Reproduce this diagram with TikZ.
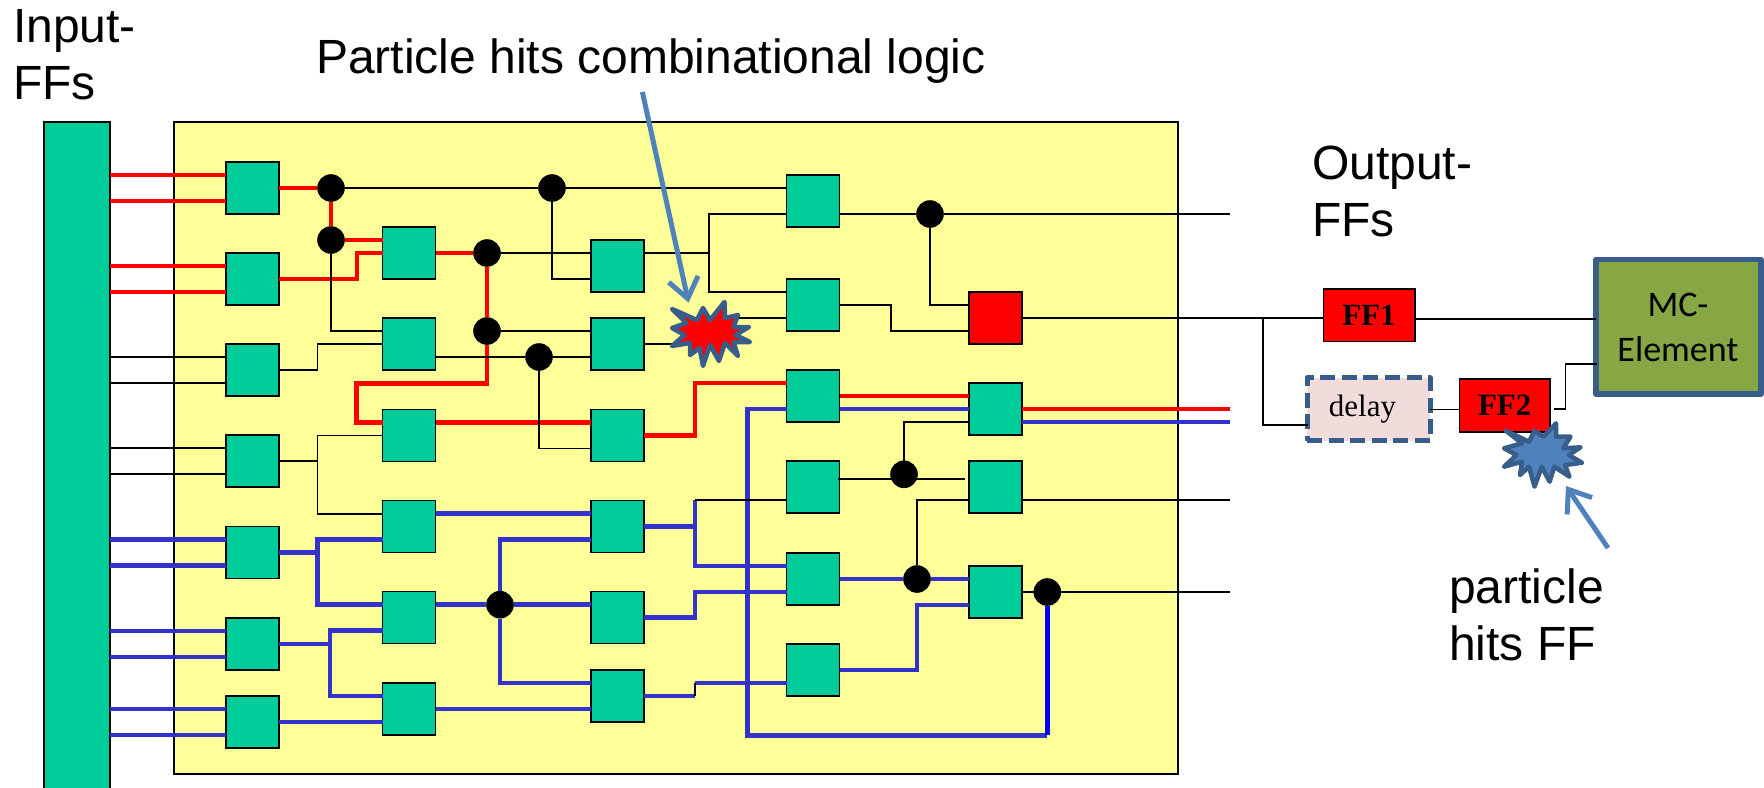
\documentclass[tikz,border=0pt]{standalone}
\usepackage{fontspec}
\setmainfont{Liberation Sans}
\newfontfamily\ffserif{Liberation Serif}
\newfontfamily\mcfont{Carlito}
\usetikzlibrary{arrows.meta}

\definecolor{gategreen}{HTML}{00CC99}
\definecolor{chipyellow}{HTML}{FFFF99}
\definecolor{wireblue}{HTML}{3333CC}
\definecolor{hitblue}{HTML}{4F81BD}
\definecolor{edgeblue}{HTML}{385D8A}
\definecolor{mcgreen}{HTML}{86A744}
\definecolor{delaypink}{HTML}{F2DCDB}

\tikzset{
  gate/.style={draw=black,line width=1.5pt,fill=gategreen,minimum width=53pt,minimum height=52pt,inner sep=0pt,outer sep=0pt},
  joint/.style={circle,fill=black,minimum size=27.6pt,inner sep=0pt,outer sep=0pt},
  thinw/.style={draw=black,line width=1.6pt},
  redw/.style={draw=red,line width=4.8pt},
  bluew/.style={draw=wireblue,line width=4.8pt},
  ffbox/.style={draw=black,line width=1.5pt,fill=red,inner sep=0pt,outer sep=0pt,font=\ffserif\bfseries\fontsize{31}{31}\selectfont},
  hit/.style={draw=edgeblue,line width=4.5pt,line join=round},
  hitarrow/.style={draw=hitblue,line width=5pt,-{Straight Barb[length=20pt,width=30pt,line width=5pt]}},
  label/.style={inner sep=0pt,outer sep=0pt,align=left,anchor=base west,font=\fontsize{48}{57}\selectfont}
}

\begin{document}
\begin{tikzpicture}[x=1pt,y=-1pt]
\useasboundingbox (0,0) rectangle (1764,787);

% chip and input flip-flops
\node[draw=black,line width=1.5pt,fill=chipyellow,minimum width=1004pt,minimum height=652pt,inner sep=0pt,outer sep=0pt] (chip) at (676,448) {};
\node[draw=black,line width=1.5pt,fill=gategreen,minimum width=66pt,minimum height=675pt,inner sep=0pt,outer sep=0pt] (bar) at (77,459.5) {};

% gates
\foreach \name/\cx/\cy in {G1/252.5/188,G2/252.5/279,G3/252.5/370,G4/252.5/461,G5/252.5/552.7,G6/252.5/644,G7/252.5/722,
  B1/409/253,B2/409/344,B3/409/435.5,B4/409/526.7,B5/409/617.7,B6/409/709,
  C1/617.5/266,C2/617.5/344,C3/617.5/435.5,C4/617.5/526.7,C5/617.5/617.7,C6/617.5/696,
  D1/813/201,D2/813/305,D3/813/396,D4/813/487,D5/813/579,D6/813/670,
  E2/995.5/409,E3/995.5/487,E4/995.5/592}
{
  \node[gate] (\name) at (\cx,\cy) {};
  \coordinate (\name a) at ([yshift=13pt]\name.west);
  \coordinate (\name b) at ([yshift=-13pt]\name.west);
}
\node[gate,fill=red] (E1) at (995.5,318) {};
\coordinate (E1a) at ([yshift=13pt]E1.west);
\coordinate (E1b) at ([yshift=-13pt]E1.west);

% joints
\foreach \name/\cx/\cy in {dotA/331/188,dotB/331/240,dotC/552/188,dotD/487/253,dotE/487/331,dotF/539/357,
  dotG/500/604.7,dotH/930/214,dotI/904/474.3,dotJ/917/579,dotK/1047.3/592}
  \node[joint] (\name) at (\cx,\cy) {};

% input wires
\foreach \g/\w in {G1/redw,G2/redw,G3/thinw,G4/thinw,G5/bluew,G6/bluew,G7/bluew}
{
  \draw[\w] (\g a -| bar.east) -- (\g a);
  \draw[\w] (\g b -| bar.east) -- (\g b);
}

% red path
\draw[redw] (G1.east) -- (dotA) -- (dotB) -- (B1a);
\draw[redw] (G2.east) -| (357,253) -- (B1.west);
\draw[redw] (B1.east) -- (dotD) -- (dotE) -- (487,383.3) -- (356.5,383.3) |- (B3a);
\draw[redw] (B3a -| B3.east) -- (C3a);
\draw[redw] (C3.east) -| (695,383) -- (D3a);
\draw[redw] (D3.east) -- (E2a);
\draw[redw] (E2.east) -- (1230,409);

% blue paths
\draw[bluew] (G5.east) -- (317.6,552.7);
\draw[bluew] (B4b) -- (317.6,539.7) |- (B5a);
\draw[bluew] (G6.east) -- (330,644);
\draw[bluew] (B5b) -- (330,630.7) |- (B6a);
\draw[bluew] (G7.east) -- (B6b);
\draw[bluew] (B4a -| B4.east) -- (C4a);
\draw[bluew] (B5a -| B5.east) -- (dotG) -- (C5a);
\draw[bluew] (dotG) |- (C4b);
\draw[bluew] (dotG) |- (C6a);
\draw[bluew] (B6.east) -- (C6b);
\draw[bluew] (C4.east) -- (695,526.7);
\draw[bluew] (695,500) -- (695,566) -- (D5a);
\draw[bluew] (C5.east) -| (695,592) -- (D5b);
\draw[bluew] (C6.east) -- (695,696);
\draw[bluew] (695,683) -- (D6b);
\draw[bluew] (D3b) -- (747.3,409) -- (747.3,735.3) -- (1047.3,735.3);
\draw[bluew,draw=blue] (1047.3,735.3) -- (dotK);
\draw[bluew] (D3b -| D3.east) -- (E2.west);
\draw[bluew] (D5.east) -- (dotJ) -- (E4a);
\draw[bluew] (D6.east) -| (917,605) -- (E4b);
\draw[bluew] (E2b -| E2.east) -- (1230,422);

% thin wires
\draw[thinw] (dotA) -- (dotC) -- (D1a);
\draw[thinw] (dotC) |- (C1b);
\draw[thinw] (dotD) -- (C1a);
\draw[thinw] (dotB) |- (B2a);
\draw[thinw] (dotE) -- (C2a);
\draw[thinw] (B2b -| B2.east) -- (dotF) -- (C2b);
\draw[thinw] (G3.east) -| (317.6,344) -- (B2.west);
\draw[thinw] (dotF) |- (C3b);
\draw[thinw] (B3.west) -- (317.6,435.5) |- (B4a);
\draw[thinw] (G4.east) -- (317.6,461);
\draw[thinw] (695,500) -- (D4b);
\draw[thinw] (695,696) -- (695,683);
\draw[thinw] (dotJ) |- (E3b);
\draw[thinw] (E4.east) -- (dotK) -- (1230,592);
\coordinate (D4out) at (837.5,478.7);
\coordinate (E3in) at (965,478.7);
\draw[thinw] (D4out) -- (E3in);
\draw[thinw] (dotI) |- (E2b);
\draw[thinw] (E3b -| E3.east) -- (1230,500);
\draw[thinw] (C1a -| C1.east) -- (709,253);
\draw[thinw] (D1b) -- (709,214) |- (D2a);
\draw[thinw] (C2.east) -- (710,344) |- (D2b);
\draw[thinw] (D1b -| D1.east) -- (dotH) -- (1230,214);
\draw[thinw] (dotH) |- (E1a);
\draw[thinw] (D2.east) -| (891,331) -- (E1b);

% output side
\node[ffbox,minimum width=91.5pt,minimum height=52.5pt] (FF1) at (1369,315) {FF1};
\node[ffbox,minimum width=90.5pt,minimum height=53pt] (FF2) at (1504.7,405.5) {FF2};
\node[draw=edgeblue,line width=5pt,fill=delaypink,line join=round,dash pattern=on 15pt off 6.6pt,minimum width=123pt,minimum height=63pt,inner sep=0pt,outer sep=0pt,font=\ffserif\fontsize{31}{31}\selectfont] (delay) at (1368.5,409.3) {delay\kern12pt};
\node[draw=edgeblue,line width=5.4pt,fill=mcgreen,line join=round,minimum width=165pt,minimum height=134.5pt,inner sep=0pt,outer sep=0pt] (MC) at (1678.5,326.7) {};
\node[inner sep=0pt,outer sep=0pt,align=center,anchor=base,font=\mcfont\fontsize{36}{45}\selectfont] (mclabel) at (1678,361.7) {MC-\\Element};

\coordinate (tap) at (1263,318);
\coordinate (delayin) at (1308,424.7);
\coordinate (FF1out) at (1414.7,319);
\coordinate (FF2out) at (1554,409);
\coordinate (MCin) at (1597,364);
\draw[thinw] (E1.east) -- (E1.east -| FF1.west);
\draw[thinw] (tap) |- (delayin);
\draw[thinw] (FF1out) -- (FF1out -| MC.west);
\draw[thinw] (delay.east) -- (delay.east -| FF2.west);
\draw[thinw] (FF2out) -- (1565.5,409) |- (MCin);

% hits
\draw[hit,fill=red] (672,309) -- (697,320) -- (703,308) -- (710,320) -- (724.5,302) -- (725,318) -- (738,315) -- (733.5,327) -- (749,327) -- (735.5,335) -- (750,342) -- (733.5,342) -- (738,356) -- (725,343) -- (719,361) -- (710,345) -- (703,366) -- (699.6,348) -- (690,355) -- (690,343) -- (672,346) -- (684.5,335) -- (672,328) -- (686.5,323) -- cycle;
\draw[hit,fill=hitblue] (1505.8,430.7) -- (1529,441.7) -- (1534.5,430.7) -- (1543.5,436.7) -- (1556,423.3) -- (1556,436.7) -- (1570.5,436.7) -- (1563.3,448.3) -- (1580.6,447.3) -- (1568.7,455) -- (1582,462.7) -- (1565,465) -- (1569.4,476.7) -- (1554.3,466.7) -- (1549.6,481.7) -- (1541.7,466.7) -- (1534.5,486.7) -- (1529,466.7) -- (1520,475) -- (1522,461.7) -- (1504,466.7) -- (1516.5,455) -- (1504,448.3) -- (1522,443.3) -- cycle;

\coordinate (hitA) at (642.4,92);
\coordinate (hitAtip) at (688.6,302.7);
\coordinate (hitB) at (1608,548);
\coordinate (hitBtip) at (1566,486);
\draw[hitarrow] (hitA) -- (hitAtip);
\draw[hitarrow] (hitB) -- (hitBtip);

% labels
\node[label] (inlabel) at (13,99) {Input-\\FFs};
\node[label] (toplabel) at (316,73) {Particle hits combinational logic};
\node[label] (outlabel) at (1312,236) {Output-\\FFs};
\node[label] (ffhitlabel) at (1449,660) {particle\\hits FF};

\end{tikzpicture}
\end{document}
